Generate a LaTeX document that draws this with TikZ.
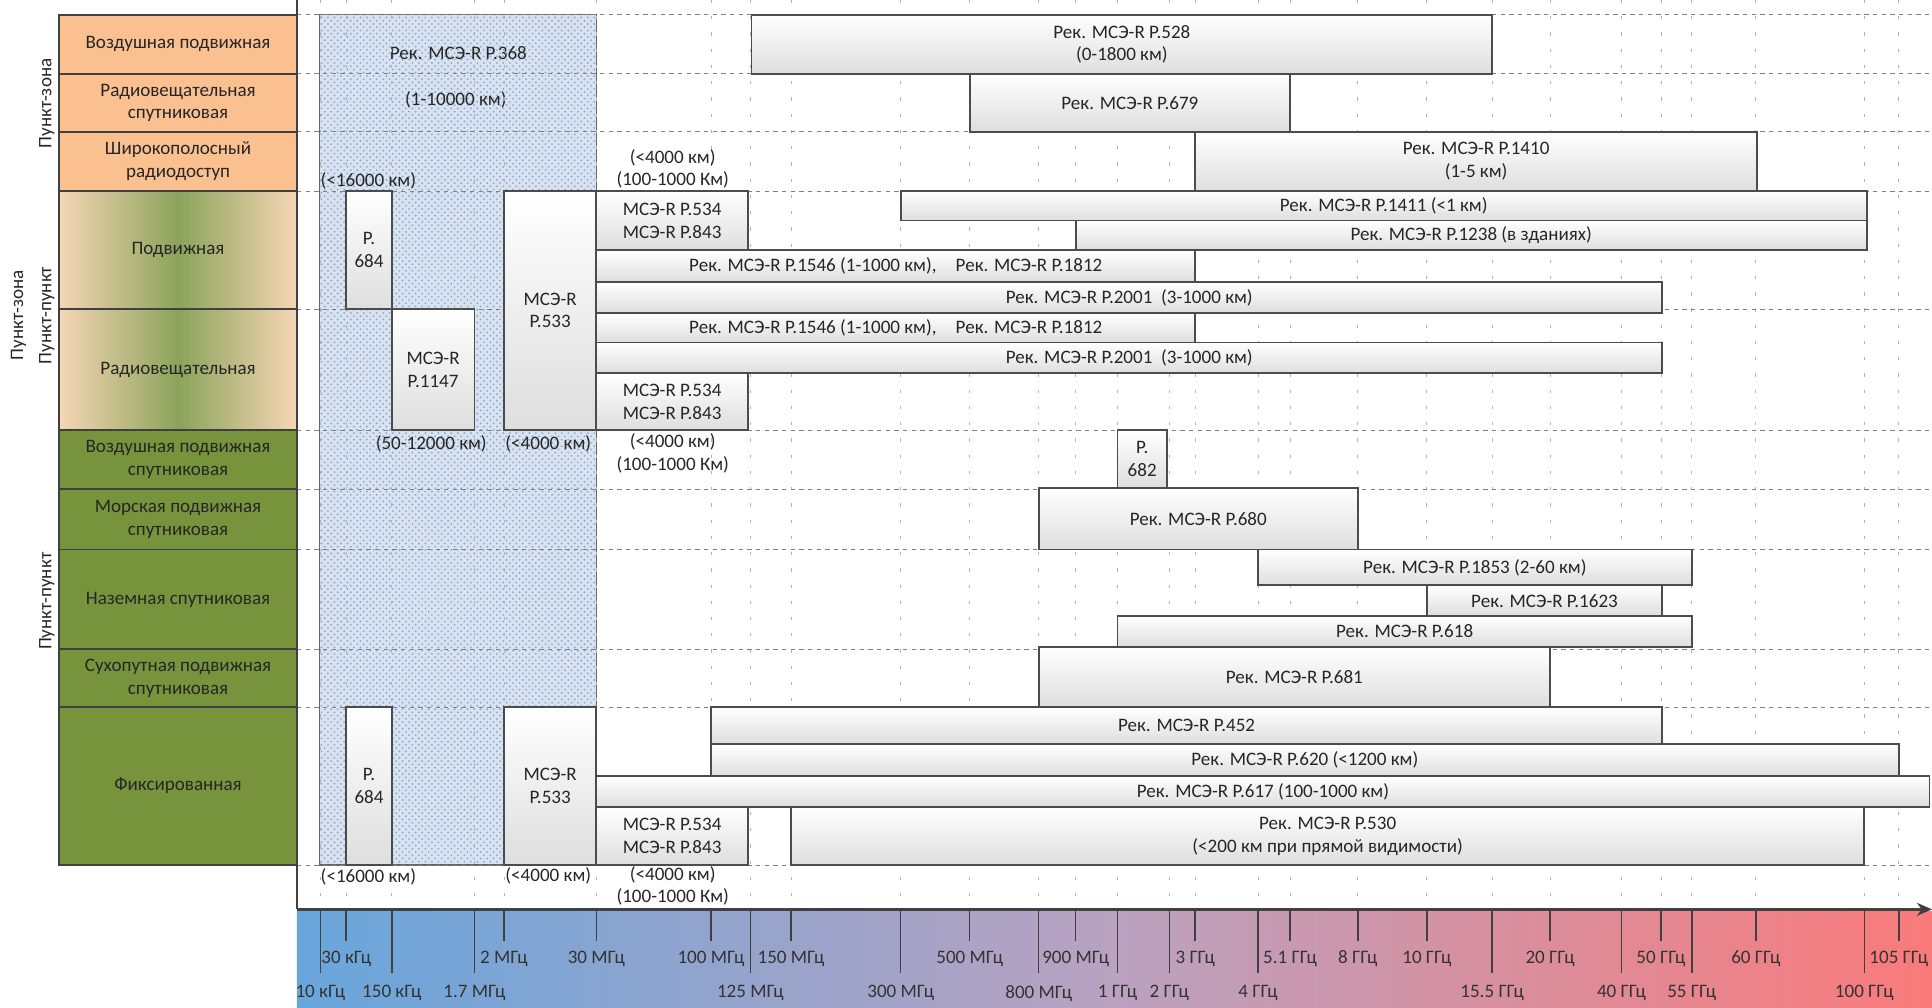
\documentclass[tikz,border=0pt]{standalone}
\usepackage{fontspec}
\setmainfont{Carlito}
\usetikzlibrary{arrows.meta,positioning,fit,backgrounds,calc,patterns}

\definecolor{peach}{RGB}{250,192,144}
\definecolor{peachlt}{RGB}{246,214,182}
\definecolor{olive}{RGB}{119,147,60}
\definecolor{hatchbg}{RGB}{216,227,241}
\definecolor{hatchfg}{RGB}{150,170,202}
\definecolor{barblue}{RGB}{104,166,220}
\definecolor{barmid}{RGB}{186,162,192}
\definecolor{barred}{RGB}{250,122,122}

\tikzset{
  rec/.style={draw=black!70, line width=0.8pt, top color=white, bottom color=black!13, inner sep=0pt},
  cell/.style={draw=black!75, line width=0.8pt, inner sep=0pt},
  mixcell/.style={cell, left color=peachlt, right color=peachlt, middle color=olive!85},
  rowline/.style={draw=black!50, dash pattern=on 2pt off 2pt, line width=0.4pt},
  colline/.style={draw=black!30, dash pattern=on 1.5pt off 6pt, line width=0.4pt},
  note/.style={inner sep=0pt, align=center, text=black!85},
  tickline/.style={draw=black!75, line width=0.7pt},
}

\begin{document}
\begin{tikzpicture}[x=0.02cm, y=-0.02cm, font=\fontsize{8.8}{10.5}\selectfont]
\useasboundingbox (0,0) rectangle (1568,818);

% frequency bar
\shade[left color=barblue, right color=barred, middle color=barmid] (241,740) rectangle (1568,818);

% zone of P.368
\node[draw=black!60, line width=0.5pt, preaction={fill=hatchbg}, pattern=crosshatch dots,
  pattern color=hatchfg, inner sep=0pt, fit={(259,12) (484,702)}] (zone368) {};
\node[note] (p368) at (372,43) {Рек. МСЭ-R P.368};
\node[note] (p368d) at (370,81) {(1-10000 км)};

% grid
\foreach \gx in {260,281,318,385,409,484,577,609,642,731,787,843,873,907,949,970,1021,1047,1102,1158,1211,1258,1316,1348,1373,1425,1513,1541}
  \draw[colline] (\gx,0) -- (\gx,738);
\foreach \gy in {12,60,107,155,251,349,397,446,527,574,702}
  \draw[rowline] (241,\gy) -- (1568,\gy);

% services
\node[cell, fill=peach, fit={(48,12) (241,60)}, label={[note]center:Воздушная подвижная}] (vozd) {};
\node[cell, fill=peach, fit={(48,60) (241,107)}, label={[note]center:{Радиовещательная\\спутниковая}}] (rvsat) {};
\node[cell, fill=peach, fit={(48,107) (241,155)}, label={[note]center:{Широкополосный\\радиодоступ}}] (shpd) {};
\node[mixcell, fit={(48,155) (241,251)}, label={[note]center:Подвижная}] (podv) {};
\node[mixcell, fit={(48,251) (241,349)}, label={[note]center:Радиовещательная}] (rv) {};
\node[cell, fill=olive, fit={(48,349) (241,397)}, label={[note]center:{Воздушная подвижная\\спутниковая}}] (vozdsat) {};
\node[cell, fill=olive, fit={(48,397) (241,446)}, label={[note]center:{Морская подвижная\\спутниковая}}] (morsat) {};
\node[cell, fill=olive, fit={(48,446) (241,527)}, label={[note]center:Наземная спутниковая}] (nazsat) {};
\node[cell, fill=olive, fit={(48,527) (241,574)}, label={[note]center:{Сухопутная подвижная\\спутниковая}}] (suhsat) {};
\node[cell, fill=olive, fit={(48,574) (241,702)}, label={[note]center:Фиксированная}] (fiks) {};

\node[note, rotate=90] (pz) at (38,84) {Пункт-зона};
\node[note, rotate=90] (pz2) at (15,256) {Пункт-зона};
\node[note, rotate=90] (pp2) at (38,256) {Пункт-пункт};
\node[note, rotate=90] (pp) at (38,488) {Пункт-пункт};

% recommendations
\node[rec, fit={(610,12) (1211,60)}, label={[note]center:{Рек. МСЭ-R P.528\\(0-1800 км)}}] (p528) {};
\node[rec, fit={(787,60) (1047,107)}, label={[note]center:Рек. МСЭ-R P.679}] (p679) {};
\node[rec, fit={(970,107) (1426,155)}, label={[note]center:{Рек. МСЭ-R P.1410\\(1-5 км)}}] (p1410) {};
\node[rec, fit={(281,155) (318,251)}, label={[note]center:{P.\\684}}] (p684a) {};
\node[rec, fit={(318,251) (385,349)}, label={[note]center:{МСЭ-R\\P.1147}}] (p1147) {};
\node[rec, fit={(409,155) (484,349)}, label={[note]center:{МСЭ-R\\P.533}}] (p533a) {};
\node[rec, fit={(484,155) (607,203)}, label={[note]center:{МСЭ-R P.534\\МСЭ-R P.843}}] (p534a) {};
\node[rec, fit={(731,155) (1515,179)}, label={[note]center:Рек. МСЭ-R P.1411 (<1 км)}] (p1411) {};
\node[rec, fit={(873,179) (1515,203)}, label={[note]center:Рек. МСЭ-R P.1238 (в зданиях)}] (p1238) {};
\node[rec, fit={(484,203) (970,229)}, label={[note]center:{Рек. МСЭ-R P.1546 (1-1000 км),\quad Рек. МСЭ-R P.1812}}] (p1546a) {};
\node[rec, fit={(484,229) (1349,254)}, label={[note]center:{Рек. МСЭ-R P.2001\ \ (3-1000 км)}}] (p2001a) {};
\node[rec, fit={(484,254) (970,278)}, label={[note]center:{Рек. МСЭ-R P.1546 (1-1000 км),\quad Рек. МСЭ-R P.1812}}] (p1546b) {};
\node[rec, fit={(484,278) (1349,303)}, label={[note]center:{Рек. МСЭ-R P.2001\ \ (3-1000 км)}}] (p2001b) {};
\node[rec, fit={(484,303) (607,349)}, label={[note]center:{МСЭ-R P.534\\МСЭ-R P.843}}] (p534b) {};
\node[rec, fit={(907,349) (947,396)}, label={[note]center:{P.\\682}}] (p682) {};
\node[rec, fit={(843,396) (1102,446)}, label={[note]center:Рек. МСЭ-R P.680}] (p680) {};
\node[rec, fit={(1021,446) (1373,475)}, label={[note]center:Рек. МСЭ-R P.1853 (2-60 км)}] (p1853) {};
\node[rec, fit={(1158,475) (1349,500)}, label={[note]center:Рек. МСЭ-R P.1623}] (p1623) {};
\node[rec, fit={(907,500) (1373,525)}, label={[note]center:Рек. МСЭ-R P.618}] (p618) {};
\node[rec, fit={(843,525) (1258,574)}, label={[note]center:Рек. МСЭ-R P.681}] (p681) {};
\node[rec, fit={(281,574) (318,702)}, label={[note]center:{P.\\684}}] (p684b) {};
\node[rec, fit={(409,574) (484,702)}, label={[note]center:{МСЭ-R\\P.533}}] (p533b) {};
\node[rec, fit={(577,574) (1349,604)}, label={[note]center:Рек. МСЭ-R P.452}] (p452) {};
\node[rec, fit={(577,604) (1541,630)}, label={[note]center:Рек. МСЭ-R P.620 (<1200 км)}] (p620) {};
\node[rec, fit={(484,630) (1566,655)}, label={[note]center:Рек. МСЭ-R P.617 (100-1000 км)}] (p617) {};
\node[rec, fit={(484,655) (607,702)}, label={[note]center:{МСЭ-R P.534\\МСЭ-R P.843}}] (p534c) {};
\node[rec, fit={(642,655) (1513,702)}, label={[note]center:{Рек. МСЭ-R P.530\\(<200 км при прямой видимости)}}] (p530) {};

% distances
\node[note] (d16a) at (299,147) {(<16000 км)};
\node[note] (d4ka) at (546,137) {(<4000 км)\\(100-1000 Км)};
\node[note] (d50) at (350,360) {(50-12000 км)};
\node[note] (d4a) at (445,360) {(<4000 км)};
\node[note] (d4kb) at (546,368) {(<4000 км)\\(100-1000 Км)};
\node[note] (d16b) at (299,712) {(<16000 км)};
\node[note] (d4b) at (445,711) {(<4000 км)};
\node[note] (d4kc) at (546,719) {(<4000 км)\\(100-1000 Км)};

% axes
\coordinate (ytop) at (241,0);
\coordinate (orig) at (241,738);
\coordinate (xend) at (1568,738);
\draw[black!75, line width=0.8pt] (ytop) -- (orig);
\draw[black!75, line width=1.6pt, -{Stealth[length=7pt,width=6pt]}] (orig) -- (xend);

\foreach \fx/\flab/\fl [count=\i] in {260/10 кГц/2, 281/30 кГц/1, 318/150 кГц/2, 385/1.7 МГц/2,
    409/2 МГц/1, 484/30 МГц/1, 577/100 МГц/1, 609/125 МГц/2, 642/150 МГц/1, 731/300 МГц/2,
    787/500 МГц/1, 843/800 МГц/2, 873/900 МГц/1, 907/1 ГГц/2, 949/2 ГГц/2, 970/3 ГГц/1,
    1021/4 ГГц/2, 1047/5.1 ГГц/1, 1102/8 ГГц/1, 1158/10 ГГц/1, 1211/15.5 ГГц/2, 1258/20 ГГц/1,
    1316/40 ГГц/2, 1348/50 ГГц/1, 1373/55 ГГц/2, 1425/60 ГГц/1, 1513/100 ГГц/2, 1541/105 ГГц/1}
{
  \pgfmathsetmacro\ty{\fl==1 ? 764 : 790}
  \pgfmathsetmacro\ly{\fl==1 ? 778 : 806}
  \coordinate (tb\i) at (\fx,738);
  \coordinate (te\i) at (\fx,\ty);
  \draw[tickline] (tb\i) -- (te\i);
  \node[note, text=black!80] (f\i) at (\fx,\ly) {\flab};
}
\end{tikzpicture}
\end{document}
